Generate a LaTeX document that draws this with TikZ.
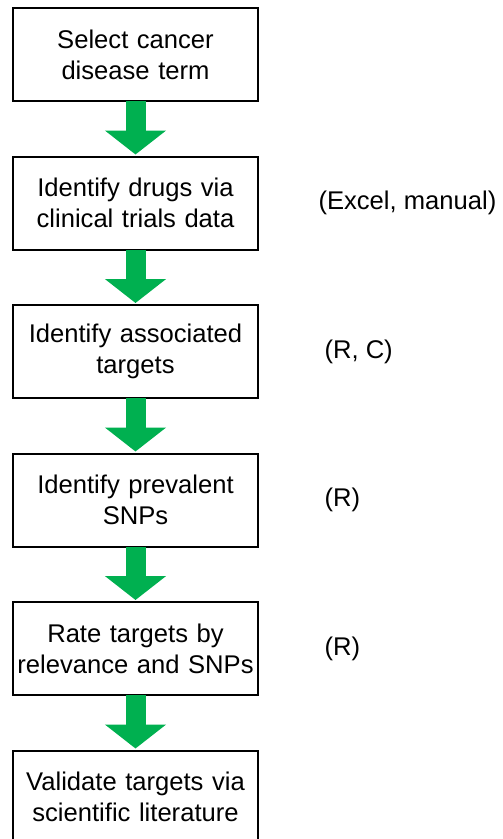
\documentclass[tikz,border=0pt]{standalone}
\usepackage{fontspec}
\setmainfont{Liberation Sans}
\usepackage{xcolor}
\definecolor{ink}{HTML}{000000}
\definecolor{stepgreen}{HTML}{00B050}
\usepackage{tikz}
\usetikzlibrary{arrows.meta,positioning}
\tikzset{
  stepbox/.style={draw=ink,line width=2pt,fill=white,align=center,outer sep=0pt,
    minimum width=245pt,minimum height=93pt,text width=243pt,inner xsep=1pt,
    font=\fontsize{25.6}{31}\selectfont},
  flow/.style={-{Triangle[width=60pt,length=24pt]},line width=20pt,stepgreen,
    shorten >=2pt},
  tool/.style={anchor=west,font=\fontsize{25.6}{31}\selectfont,text=ink}}

\begin{document}
\begin{tikzpicture}[node distance=55.5pt]
  \useasboundingbox (0pt,0pt) rectangle (503pt,-839pt);
  \node[stepbox] (sel) at (135.5pt,-54.5pt) {Select cancer\\disease term};
  \node[stepbox,below=of sel] (drugs) {Identify drugs via\\clinical trials data};
  \node[stepbox,below=of drugs] (targ) {Identify associated\\targets};
  \node[stepbox,below=of targ] (snps) {Identify prevalent\\SNPs};
  \node[stepbox,below=of snps] (rate) {Rate targets by\\relevance and SNPs};
  \node[stepbox,below=of rate] (valid) {Validate targets via\\scientific literature};
  \foreach \a/\b in {sel/drugs,drugs/targ,targ/snps,snps/rate,rate/valid}
    \draw[flow] (\a.south)--(\b.north);
  \node[tool] (tdrugs) at (315pt,0|-drugs) {(Excel, manual)};
  \node[tool] (ttarg) at (321pt,0|-targ) {(R, C)};
  \node[tool] (tsnps) at (321pt,0|-snps) {(R)};
  \node[tool] (trate) at (321pt,0|-rate) {(R)};
\end{tikzpicture}
\end{document}
